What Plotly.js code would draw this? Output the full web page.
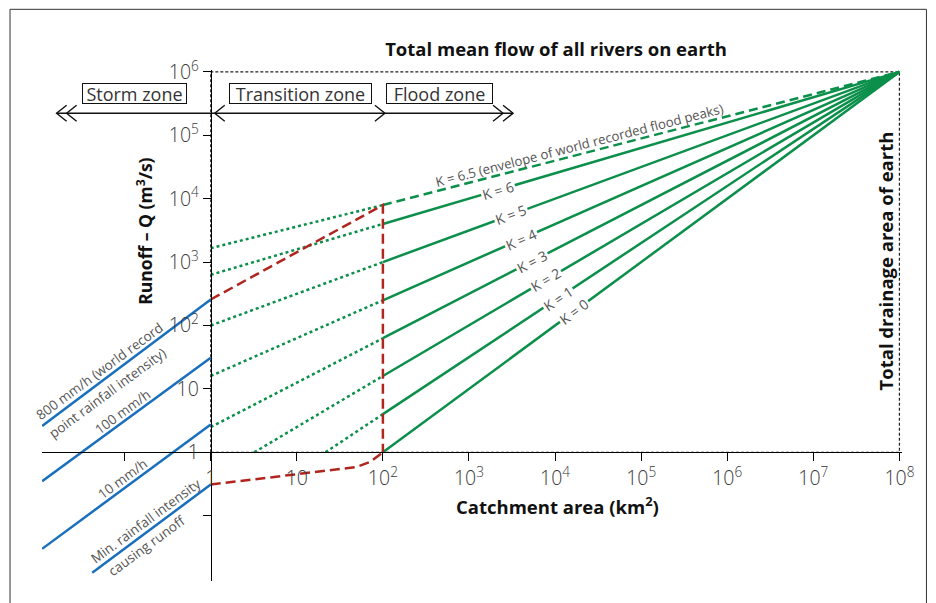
<!DOCTYPE html>
<html>
<head>
<meta charset="utf-8">
<script src="https://cdn.plot.ly/plotly-3.0.1.min.js"></script>
<style>html,body{margin:0;padding:0;background:#fff;}#chart{width:936px;height:603px;}</style>
</head>
<body>
<div id="chart"></div>
<script>
// ---------------- DATA ----------------
// Rainfall-intensity (rational formula) lines in the storm zone
const rainNames = ['800 mm/h', '100 mm/h', '10 mm/h', 'Min. rainfall intensity'];
const rainStartArea = [0.011, 0.011, 0.011, 0.042];   // km2
const rainStartQ = [2.6, 0.35, 0.03, 0.0126];          // m3/s
const rainEndArea = [1, 1, 1, 1];
const rainEndQ = [257, 31, 2.75, 0.31];

// Francou-Rodier K lines
const kValues = [0, 1, 2, 3, 4, 5, 6, 6.5];
const dotStartArea = [null, 21.5, 3.2, 1, 1, 1, 1, 1];
const dotStartQ = [null, 1, 1, 2.5, 16, 100, 630, 1660];
const solidStartArea = [100, 100, 100, 100, 100, 100, 100, 100];
const solidStartQ = [1, 4, 16, 63, 250, 1000, 4000, 7950];
const convergeArea = 1e8;   // total drainage area of earth
const convergeQ = 1e6;      // total mean flow of all rivers

// Transition envelope (red dashed)
const envUpperArea = [1, 100, 100];
const envUpperQ = [257, 7950, 1];
const envLowerArea = [1, 49.4, 70.6, 100];
const envLowerQ = [0.31, 0.586, 0.703, 1];

// Zones
const zoneNames = ['Storm zone', 'Transition zone', 'Flood zone'];
const zoneBounds = [0.0162, 1, 100, 3250];

// Ticks
const xTickVals = [0.1, 1, 10, 1e2, 1e3, 1e4, 1e5, 1e6, 1e7, 1e8];
const xTickText = ['', '1', '10', '10<sup>2</sup>', '10<sup>3</sup>', '10<sup>4</sup>', '10<sup>5</sup>', '10<sup>6</sup>', '10<sup>7</sup>', '10<sup>8</sup>'];
const yTickVals = [0.1, 1, 10, 1e2, 1e3, 1e4, 1e5, 1e6];
const yTickText = ['', '1', '10', '10<sup>2</sup>', '10<sup>3</sup>', '10<sup>4</sup>', '10<sup>5</sup>', '10<sup>6</sup>'];

// ---------------- GEOMETRY ----------------
const W = 936, H = 603;
const X0 = 211, Y0 = 452, DX = 86, DY = 63.33;  // pixel of (1,1) and decade sizes
const xL = -1.96, xR = 8.03, yB = -2.03, yT = 6.03;
const ml = X0 + xL * DX, mr = W - (X0 + xR * DX);
const mt = Y0 - yT * DY, mb = H - (Y0 - yB * DY);
const lg = Math.log10;
function pxToLX(px) { return (px - X0) / DX; }
function pyToLY(py) { return (Y0 - py) / DY; }
function paperX(px) { return (px - ml) / (W - ml - mr); }
function paperY(py) { return (H - mb - py) / (H - mt - mb); }
function angleOf(slope) { return -Math.atan(slope * DY / DX) * 180 / Math.PI; }

const GREEN = '#0b8f4a', BLUE = '#1a6fbd', RED = '#b0261e', GREY = '#555';
const FONT = 'Open Sans, Noto Sans, sans-serif';

const traces = [];
function line(xs, ys, color, width, dash) {
  traces.push({type: 'scatter', mode: 'lines', x: xs, y: ys, hoverinfo: 'skip', showlegend: false,
    line: {color: color, width: width, dash: dash || 'solid'}});
}

// dotted box: 1..1e8 x 1..1e6
line([1, 1, convergeArea, convergeArea, 1], [1, convergeQ, convergeQ, 1, 1], '#222', 1.2, '3px,2px');

// green K lines
for (let i = 0; i < kValues.length; i++) {
  if (dotStartArea[i] !== null) {
    line([dotStartArea[i], solidStartArea[i]], [dotStartQ[i], solidStartQ[i]], GREEN, 2.5, 'dot');
  }
  line([solidStartArea[i], convergeArea], [solidStartQ[i], convergeQ], GREEN, 2.5,
       kValues[i] === 6.5 ? '9px,5px' : 'solid');
}

// blue rainfall lines
for (let i = 0; i < rainNames.length; i++) {
  line([rainStartArea[i], rainEndArea[i]], [rainStartQ[i], rainEndQ[i]], BLUE, 2.5);
}

// red envelope
line(envUpperArea, envUpperQ, RED, 2.5, '10px,5px');
line(envLowerArea, envLowerQ, RED, 2.5, '10px,5px');

// zone arrows
const zoneY = 113.3;
const zoneQ = Math.pow(10, pyToLY(zoneY));
line([zoneBounds[0], zoneBounds[3]], [zoneQ, zoneQ], '#111', 1.4);
function chevron(tipPx, dir) {
  const xs = [tipPx - dir * 10, tipPx, tipPx - dir * 10].map(p => Math.pow(10, pxToLX(p)));
  const ys = [zoneY - 8, zoneY, zoneY + 8].map(p => Math.pow(10, pyToLY(p)));
  line(xs, ys, '#111', 1.4);
}
const bpx = zoneBounds.map(a => X0 + lg(a) * DX);
chevron(bpx[0], -1); chevron(bpx[0] + 10, -1);
chevron(bpx[1] + 4, -1);
chevron(bpx[2] + 2, 1);
chevron(bpx[3], 1); chevron(bpx[3] - 10, 1);

// ---------------- ANNOTATIONS ----------------
const ann = [];
function txt(lx, ly, text, angle, opts) {
  ann.push(Object.assign({x: lx, y: ly, xref: 'x', yref: 'y', text: text, showarrow: false,
    textangle: angle, xanchor: 'center', yanchor: 'middle',
    font: {family: FONT, size: 13.5, color: GREY}}, opts || {}));
}
const rainAng = angleOf(1.0);
txt(-1.29, 1.28, '800 mm/h (world record', rainAng);
txt(-1.20, 0.93, 'point rainfall intensity)', rainAng);
txt(-1.03, 0.64, '100 mm/h', rainAng);
txt(-1.03, -0.42, '10 mm/h', rainAng);
txt(-0.756, -1.09, 'Min. rainfall intensity', rainAng);
txt(-0.75, -1.476, 'causing runoff', rainAng);

// K labels
const kLabelX = [4.221, 4.035, 3.895, 3.733, 3.605, 3.488, 3.337];
for (let i = 0; i < 7; i++) {
  const y2 = lg(solidStartQ[i]);
  const slope = (lg(convergeQ) - y2) / (lg(convergeArea) - lg(solidStartArea[i]));
  const ly = y2 + (kLabelX[i] - lg(solidStartArea[i])) * slope;
  txt(kLabelX[i], ly, 'K = ' + kValues[i], angleOf(slope),
      {bgcolor: '#fff', borderpad: 1, font: {family: FONT, size: 14, color: GREY}});
}
{
  const y2 = lg(solidStartQ[7]);
  const slope = (lg(convergeQ) - y2) / (lg(convergeArea) - lg(solidStartArea[7]));
  txt(4.285, y2 + (4.285 - 2) * slope + 0.15, 'K = 6.5 (envelope of world recorded flood peaks)', angleOf(slope),
      {font: {family: FONT, size: 13.2, color: GREY}});
}

// zone boxes
const zoneCenters = [134.5, 300.5, 439.5];
const zoneWidths = [103, 141, 105];
for (let i = 0; i < 3; i++) {
  ann.push({x: pxToLX(zoneCenters[i]), y: pyToLY(93.5), xref: 'x', yref: 'y', text: zoneNames[i],
    showarrow: false, xanchor: 'center', yanchor: 'middle', bordercolor: '#111', borderwidth: 1,
    borderpad: 0, bgcolor: '#fff', width: zoneWidths[i], height: 19,
    font: {family: FONT, size: 18, color: '#333'}});
}

// axis / side titles
const boldFont = {family: FONT, size: 18.5, color: '#111', weight: 'bold'};
ann.push({xref: 'paper', yref: 'paper', x: paperX(557), y: paperY(505), text: 'Catchment area (km<sup>2</sup>)',
  showarrow: false, xanchor: 'center', yanchor: 'middle', font: boldFont});
ann.push({xref: 'paper', yref: 'paper', x: paperX(144), y: paperY(231), text: 'Runoff – Q (m<sup>3</sup>/s)',
  showarrow: false, xanchor: 'center', yanchor: 'middle', textangle: -90,
  font: Object.assign({}, boldFont, {size: 17.5})});
ann.push({xref: 'paper', yref: 'paper', x: paperX(885), y: paperY(261), text: 'Total drainage area of earth',
  showarrow: false, xanchor: 'center', yanchor: 'middle', textangle: -90, font: boldFont});

const tickFont = {family: FONT, size: 19.5, color: '#3a3a3a', weight: 300};

const layout = {
  width: W, height: H, autosize: false,
  margin: {l: ml, r: mr, t: mt, b: mb, pad: 0},
  paper_bgcolor: '#fff', plot_bgcolor: '#fff',
  showlegend: false,
  title: {text: 'Total mean flow of all rivers on earth', xref: 'container', yref: 'container',
    x: 556 / W, y: 1 - 50 / H, xanchor: 'center', yanchor: 'middle', font: boldFont},
  xaxis: {type: 'log', range: [xL, xR], anchor: 'free', position: (0 - yB) / (yT - yB),
    showline: true, linecolor: '#000', linewidth: 1, ticks: 'outside', ticklen: 8, tickwidth: 1,
    tickcolor: '#000', tickmode: 'array', tickvals: xTickVals, ticktext: xTickText, tickfont: tickFont,
    showgrid: false, zeroline: false, fixedrange: true, automargin: false},
  yaxis: {type: 'log', range: [yB, yT], anchor: 'free', position: (0 - xL) / (xR - xL),
    showline: true, linecolor: '#000', linewidth: 1, ticks: 'outside', ticklen: 8, tickwidth: 1,
    tickcolor: '#000', tickmode: 'array', tickvals: yTickVals, ticktext: yTickText, tickfont: tickFont,
    showgrid: false, zeroline: false, fixedrange: true, automargin: false},
  annotations: ann,
  shapes: [{type: 'rect', xref: 'paper', yref: 'paper', x0: paperX(10.5), x1: paperX(926),
    y0: paperY(9.5), y1: paperY(612), line: {color: '#333', width: 1}, fillcolor: 'rgba(0,0,0,0)'}]
};

Plotly.newPlot('chart', traces, layout, {staticPlot: true, displayModeBar: false});
</script>
</body>
</html>
